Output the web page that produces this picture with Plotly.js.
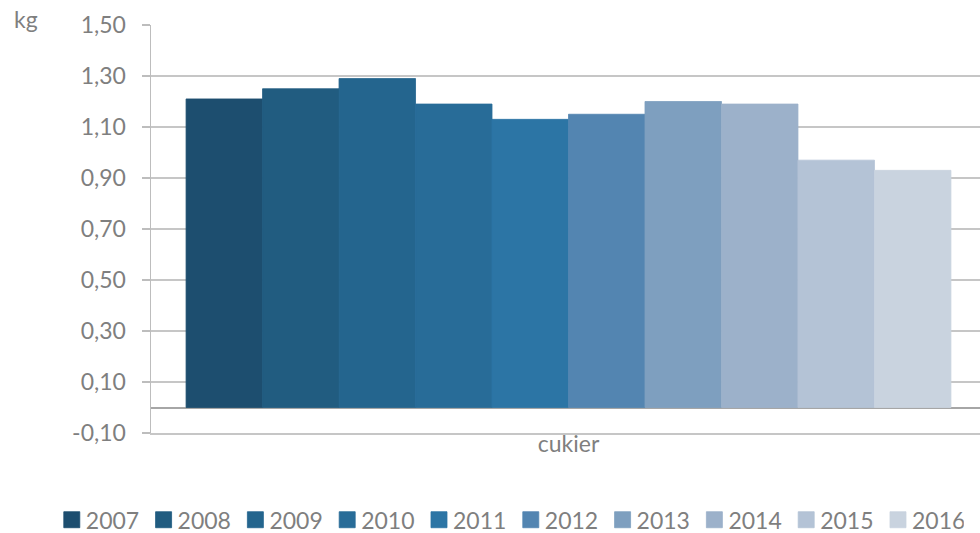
<!DOCTYPE html>
<html>
<head>
<meta charset="utf-8">
<script src="https://cdn.plot.ly/plotly-3.0.1.min.js"></script>
<style>html,body{margin:0;padding:0;background:#fff;overflow:hidden;}#wrap{width:980px;height:533px;overflow:hidden;}#chart{width:986px;height:533px;}</style>
</head>
<body>
<div id="wrap"><div id="chart"></div></div>
<script>
const categories = ['cukier'];
const years = ['2007','2008','2009','2010','2011','2012','2013','2014','2015','2016'];
const values = [1.21, 1.25, 1.29, 1.19, 1.13, 1.15, 1.20, 1.19, 0.97, 0.93];
const colors = ['#1D4E6F','#215C80','#24658E','#286C98','#2C75A5','#5385B1','#7E9FBF','#9CB1CA','#B4C3D6','#C9D3DF'];
const yTicks = [-0.1, 0.1, 0.3, 0.5, 0.7, 0.9, 1.1, 1.3, 1.5];
const yTickText = yTicks.map(v => v.toFixed(2).replace('.', ','));
const unitLabel = 'kg';

const gray = '#7F7F7F';
const font = 'Lato, "Open Sans", sans-serif';
const fs = 23;

const traces = years.map((y, i) => ({
  type: 'bar',
  name: y,
  x: categories,
  y: [values[i]],
  marker: {color: colors[i], line: {width: 0.8, color: colors[i]}},
  hoverinfo: 'name+y'
}));

const layout = {
  width: 986, height: 533,
  margin: {l: 151, r: 0, t: 25, b: 100, autoexpand: false},
  paper_bgcolor: '#fff', plot_bgcolor: '#fff',
  barmode: 'group',
  bargap: 0.084,
  bargroupgap: 0,
  font: {family: font, color: gray, size: fs},
  xaxis: {
    type: 'category',
    showgrid: false,
    showline: true, linecolor: '#C6C6C6', linewidth: 1.5,
    ticks: '',
    ticklabelstandoff: -10,
    tickfont: {family: font, size: fs, color: gray},
    automargin: false,
    fixedrange: true
  },
  yaxis: {
    range: [-0.1, 1.5],
    tickvals: yTicks,
    ticktext: yTickText,
    showgrid: true, gridcolor: '#C6C6C6', gridwidth: 1.5,
    zeroline: true, zerolinecolor: '#A6A6A6', zerolinewidth: 2,
    showline: true, linecolor: '#BDBDBD', linewidth: 1.5,
    ticks: 'outside', ticklen: 8, tickcolor: '#BDBDBD', tickwidth: 1.5,
    ticklabelstandoff: 11,
    tickfont: {family: font, size: fs, color: gray},
    automargin: false,
    fixedrange: true
  },
  showlegend: true,
  legend: {
    orientation: 'h',
    x: -0.126, xanchor: 'left', xref: 'paper',
    y: -0.16, yanchor: 'top', yref: 'paper',
    font: {family: font, size: fs, color: gray},
    traceorder: 'normal',
    itemwidth: 30,
    entrywidth: 46.8,
    entrywidthmode: 'pixels',
    tracegroupgap: 0
  },
  annotations: [{
    text: unitLabel, xref: 'paper', yref: 'paper',
    x: -0.1665, y: 1.0, xanchor: 'left', yanchor: 'bottom',
    yshift: -10,
    showarrow: false,
    font: {family: font, size: fs, color: gray}
  }]
};

Plotly.newPlot('chart', traces, layout, {displayModeBar: false, staticPlot: true}).then(gd => {
  gd.querySelectorAll('.legend .legendpoints path').forEach(p => {
    p.setAttribute('d', 'M14,8H-2V-8H14Z');
  });
});
</script>
</body>
</html>
